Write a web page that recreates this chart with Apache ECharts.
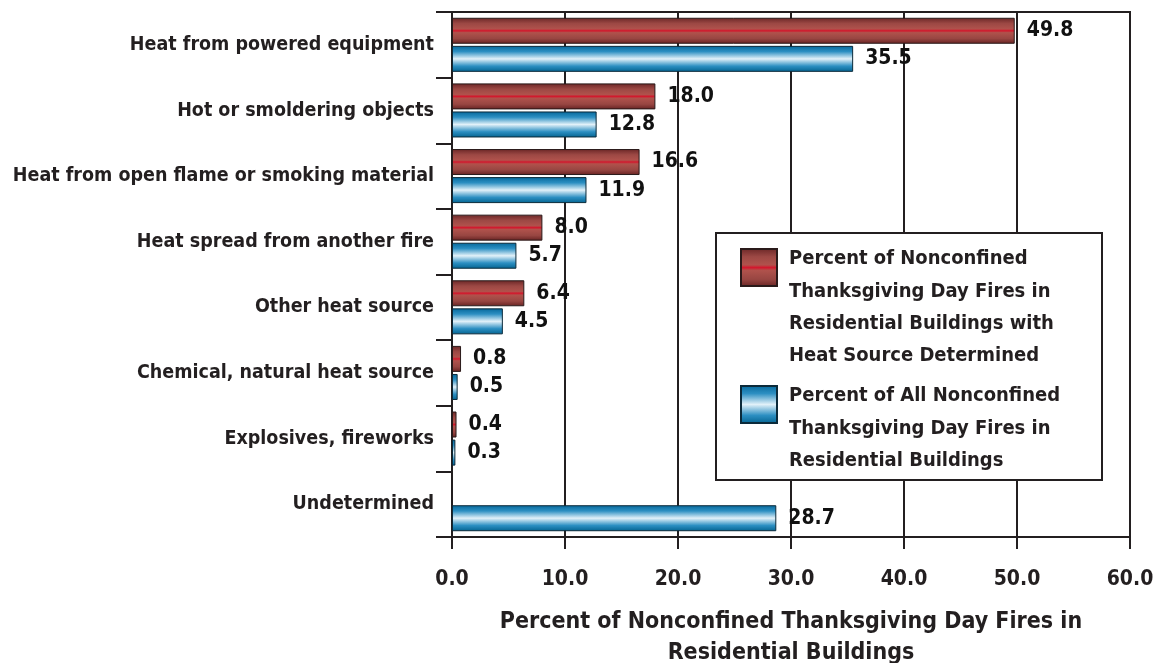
<!DOCTYPE html>
<html lang="en">
<head>
    <meta charset="UTF-8">
    <title>Thanksgiving Day fires by heat source</title>
    <style>
        html, body { margin: 0; padding: 0; background: #fff; }
        #main { width: 1161px; height: 663px; }
    </style>
</head>
<body>
<div id="main"></div>
<script src="https://cdn.jsdelivr.net/npm/echarts@6/dist/echarts.min.js"></script>
<script>
    // categories, top to bottom
    var categories = [
        'Heat from powered equipment',
        'Hot or smoldering objects',
        'Heat from open flame or smoking material',
        'Heat spread from another fire',
        'Other heat source',
        'Chemical, natural heat source',
        'Explosives, fireworks',
        'Undetermined'
    ];
    var determinedValues = [49.8, 18.0, 16.6, 8.0, 6.4, 0.8, 0.4, null];
    var allValues = [35.5, 12.8, 11.9, 5.7, 4.5, 0.5, 0.3, 28.7];
    var xTicks = [0, 10, 20, 30, 40, 50, 60];

    var nameDetermined = 'Heat source determined';
    var nameAll = 'All fires';
    var legendLines = {};
    legendLines[nameDetermined] = ['Percent of Nonconfined', 'Thanksgiving Day Fires in',
        'Residential Buildings with', 'Heat Source Determined'];
    legendLines[nameAll] = ['Percent of All Nonconfined', 'Thanksgiving Day Fires in',
        'Residential Buildings'];

    var narrow = "'Liberation Sans Narrow', 'DejaVu Sans Condensed', sans-serif";
    var ink = '#231f20';

    var redFill = new echarts.graphic.LinearGradient(0, 0, 0, 1, [
        {offset: 0, color: '#6a2626'},
        {offset: 0.22, color: '#9c4844'},
        {offset: 0.43, color: '#b0524c'},
        {offset: 0.5, color: '#d4162c'},
        {offset: 0.57, color: '#b0524c'},
        {offset: 0.8, color: '#984642'},
        {offset: 1, color: '#662222'}
    ]);
    var blueFill = new echarts.graphic.LinearGradient(0, 0, 0, 1, [
        {offset: 0, color: '#05679a'},
        {offset: 0.22, color: '#2c8fc2'},
        {offset: 0.5, color: '#e2f1f9'},
        {offset: 0.78, color: '#2c8fc2'},
        {offset: 1, color: '#03628f'}
    ]);

    var valueLabel = {
        show: true,
        position: 'right',
        distance: 12,
        color: '#111',
        fontFamily: narrow,
        fontWeight: 'bold',
        fontSize: 21,
        formatter: function (p) { return p.value.toFixed(1); }
    };

    // legend text: a spacer line on top pushes the block down so the icon sits by the first line
    function legendText(name) {
        var lines = legendLines[name];
        return '{sp| }\n' + lines.map(function (l) { return '{t|' + l + '}'; }).join('\n');
    }
    function legendStyle(spacer) {
        return {
            color: ink, fontFamily: narrow, fontWeight: 'bold', fontSize: 20,
            rich: {
                sp: {fontSize: 2, lineHeight: spacer},
                t: {color: ink, fontFamily: narrow, fontWeight: 'bold', fontSize: 20,
                    lineHeight: 32.3, padding: [0, 0, 0, 7]}
            }
        };
    }

    var myChart = echarts.init(document.getElementById('main'));
    var option = {
        animation: false,
        backgroundColor: '#fff',
        grid: {
            left: 452, right: 31, top: 12, bottom: 126,
            outerBoundsMode: 'none',
            containLabel: false,
            show: true, borderColor: ink, borderWidth: 2
        },
        graphic: [{
            type: 'rect',
            z: 3,
            shape: {x: 716, y: 233, width: 386, height: 247},
            style: {fill: '#fff', stroke: ink, lineWidth: 2}
        }],
        legend: [{
            data: [nameDetermined],
            icon: 'rect',
            left: 740, top: 202, padding: 0,
            itemWidth: 36, itemHeight: 37,
            formatter: legendText,
            textStyle: legendStyle(80)
        }, {
            data: [nameAll],
            icon: 'rect',
            left: 740, top: 355, padding: 0,
            itemWidth: 36, itemHeight: 37,
            formatter: legendText,
            textStyle: legendStyle(48)
        }],
        xAxis: {
            type: 'value',
            min: 0, max: 60, interval: 10,
            name: 'Percent of Nonconfined Thanksgiving Day Fires in\nResidential Buildings',
            nameLocation: 'middle',
            nameGap: 70,
            nameTextStyle: {
                color: ink, fontFamily: narrow,
                fontWeight: 'bold', fontSize: 23, lineHeight: 31
            },
            axisLine: {show: true, lineStyle: {color: ink, width: 2}},
            axisTick: {show: true, length: 12, lineStyle: {color: ink, width: 2}},
            splitLine: {show: true, lineStyle: {color: ink, width: 2}},
            axisLabel: {
                margin: 32, color: ink, fontFamily: narrow, fontWeight: 'bold', fontSize: 21,
                formatter: function (v) { return xTicks.indexOf(v) >= 0 ? v.toFixed(1) : ''; }
            }
        },
        yAxis: {
            type: 'category',
            inverse: true,
            data: categories,
            axisLine: {show: true, lineStyle: {color: ink, width: 2}},
            axisTick: {show: true, length: 16, lineStyle: {color: ink, width: 2}},
            axisLabel: {
                margin: 18, color: ink, fontFamily: narrow, fontWeight: 'bold', fontSize: 19.5
            }
        },
        series: [{
            name: nameDetermined,
            type: 'bar',
            data: determinedValues,
            barWidth: 26,
            barGap: '8%',
            itemStyle: {color: redFill, borderColor: '#2a1a1a', borderWidth: 1},
            label: valueLabel
        }, {
            name: nameAll,
            type: 'bar',
            data: allValues,
            barWidth: 26,
            barGap: '8%',
            itemStyle: {color: blueFill, borderColor: '#0b2a3a', borderWidth: 1},
            label: valueLabel
        }]
    };
    option && myChart.setOption(option);
</script>
</body>
</html>
